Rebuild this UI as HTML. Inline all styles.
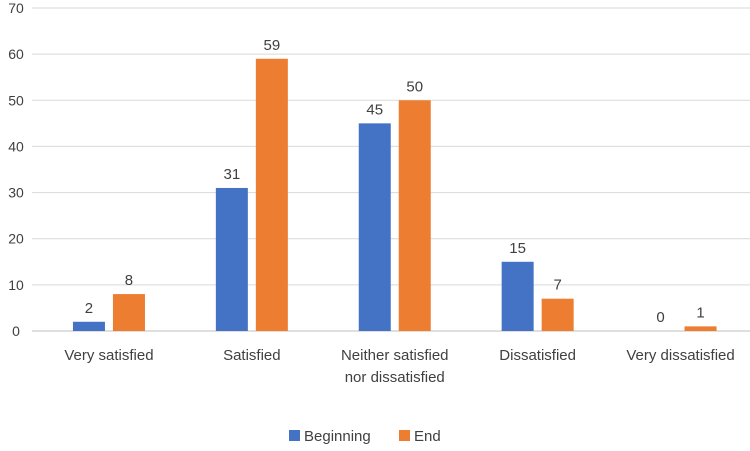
<!DOCTYPE html>
<html><head><meta charset="utf-8"><style>
body{margin:0;background:#fff;width:750px;height:446px;overflow:hidden}
svg text{font-family:"Liberation Sans",sans-serif;fill:#404040}
</style></head><body>
<svg id="chart" width="750" height="446" viewBox="0 0 750 446"></svg>
<script>
const categories=[["Very satisfied"],["Satisfied"],["Neither satisfied","nor dissatisfied"],["Dissatisfied"],["Very dissatisfied"]];
const beginning=[2,31,45,15,0];
const endVals=[8,59,50,7,1];
const yTicks=[0,10,20,30,40,50,60,70];
const NS="http://www.w3.org/2000/svg";
const svg=document.getElementById('chart');
const left=37.5,right=752,y0=331,y70=8,maxV=70;
const y=v=>y0-(y0-y70)*v/maxV;
const bandW=(right-left)/categories.length;
const xC=i=>left+bandW*(i+0.5);
function mk(t,a,p){const e=document.createElementNS(NS,t);for(const k in a)e.setAttribute(k,a[k]);(p||svg).appendChild(e);return e;}
yTicks.forEach(t=>{
  const g=mk('line',{x1:32,x2:750,y1:y(t),y2:y(t),stroke:t===0?'#bfbfbf':'#d9d9d9','stroke-width':1});
  
  
  const l=mk('text',{x:16,y:y(t)+5,'text-anchor':'middle','font-size':14});
  l.textContent=t;
  
  
});
const bw=32,gap=8;
function bars(vals,color,off,name){
  vals.forEach((v,i)=>{
    const x=xC(i)+off;
    const r=mk('rect',{x:x,y:y(v),width:bw,height:y0-y(v),fill:color});
    
    
    const t=mk('text',{x:x+bw/2,y:y(v)-9,'text-anchor':'middle','font-size':15});
    t.textContent=v;
    
    
  });
}
bars(beginning,'#4472C4',-bw-gap/2,'beginning');
bars(endVals,'#ED7D31',gap/2,'end');
categories.forEach((c,i)=>{
  c.forEach((ln,j)=>{
    const t=mk('text',{x:xC(i),y:360+j*22,'text-anchor':'middle','font-size':15});
    t.textContent=ln;
    
    
  });
});
const lg=[['Beginning','#4472C4',289],['End','#ED7D31',399]];
lg.forEach(([n,c,x])=>{
  const r=mk('rect',{x:x,y:430,width:11,height:11,fill:c});
  
  
  const t=mk('text',{x:x+15,y:441,'font-size':15});
  t.textContent=n;
  
  
});
</script>
</body></html>
